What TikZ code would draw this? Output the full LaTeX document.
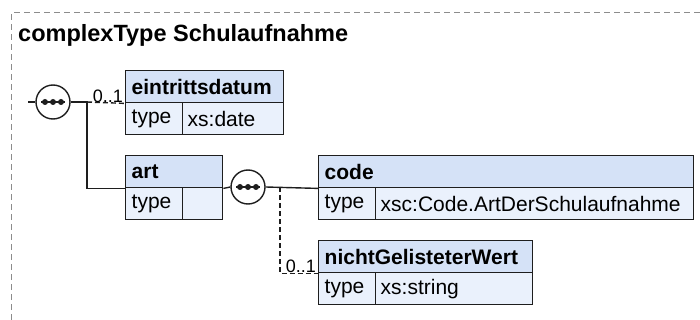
\documentclass[tikz,border=0pt]{standalone}
\usepackage{fontspec}
\setmainfont{Liberation Sans}
\definecolor{edge}{HTML}{1E1E1E}
\definecolor{headfill}{HTML}{D5E2F7}
\definecolor{bodyfill}{HTML}{EAF1FC}
\definecolor{framegray}{HTML}{8C8C8C}
\begin{document}
\begin{tikzpicture}[
  x=1pt, y=-1pt,
  cell/.style={draw=edge, line width=1.4pt, anchor=north west, inner xsep=6pt,
    inner ysep=0pt, minimum height=32pt, align=left,
    font=\fontsize{21}{24}\selectfont},
  head/.style={cell, fill=headfill, font=\bfseries\fontsize{21}{24}\selectfont},
  body/.style={cell, fill=bodyfill},
  seq/.style={circle, draw=edge, line width=1.4pt, fill=white, minimum size=34pt, inner sep=0pt},
  link/.style={draw=edge, line width=1.4pt},
  optlink/.style={link, dash pattern=on 5pt off 3pt},
  card/.style={font=\fontsize{18}{20}\selectfont, anchor=south east, inner xsep=2pt, inner ysep=1pt},
]
\useasboundingbox (0,0) rectangle (700,320);

% outer frame of the type
\draw[framegray, line width=1pt, dash pattern=on 6pt off 4pt] (11.5,320) -- (11.5,12.5) -- (700,12.5);
\node[anchor=base west, inner sep=0pt, font=\bfseries\fontsize{23.5}{26}\selectfont] (title) at (18,42) {complexType Schulaufnahme};

% element eintrittsdatum
\node[head, text width=146pt] (eintrH) at (125,70) {eintrittsdatum};
\node[body, text width=45pt] (eintrT) at (125,102) {type};
\node[body, inner xsep=5pt, text width=91pt] (eintrV) at (182,102) {xs:date};

% element art
\node[head, text width=85pt] (artH) at (125,155) {art};
\node[body, text width=45pt] (artT) at (125,187) {type};
\node[body, text width=28pt] (artV) at (182,187) {};

% element code
\node[head, text width=363pt] (codeH) at (318,155) {code};
\node[body, text width=45pt] (codeT) at (318,187) {type};
\node[body, inner xsep=5pt, text width=308pt] (codeV) at (375,187) {xsc:Code.ArtDerSchulaufnahme};

% element nichtGelisteterWert
\node[head, text width=202pt] (nichtH) at (318,240) {nichtGelisteterWert};
\node[body, text width=45pt] (nichtT) at (318,272) {type};
\node[body, inner xsep=5pt, text width=147pt] (nichtV) at (375,272) {xs:string};

% sequence compositors
\node[seq] (seq1) at (53,102) {};
\node[seq] (seq2) at (248,187) {};
\foreach \n in {seq1,seq2}{
  \draw[link, line width=1.3pt] ([xshift=-12pt]\n.center) -- ([xshift=12pt]\n.center);
  \foreach \d in {-8,0,8}
    \fill[edge] ([xshift=\d pt]\n.center) circle (3pt);
}

% connectors
\coordinate (entry) at (28,102);
\coordinate (fork1) at (87,102);
\coordinate (fork2) at (280,187);
\draw[link] (entry) -- (seq1.west);
\draw[link] (seq1.east) -- (fork1) |- (artH.south west);
\draw[optlink] (fork1) -- (eintrH.south west);
\node[card] (card1) at (eintrH.south west) {0..1};
\draw[link] (artH.south east) -- (seq2.west);
\draw[link] (seq2.east) -- (codeH.south west);
\draw[optlink] (fork2) |- (nichtH.south west);
\node[card] (card2) at (nichtH.south west) {0..1};
\end{tikzpicture}
\end{document}
